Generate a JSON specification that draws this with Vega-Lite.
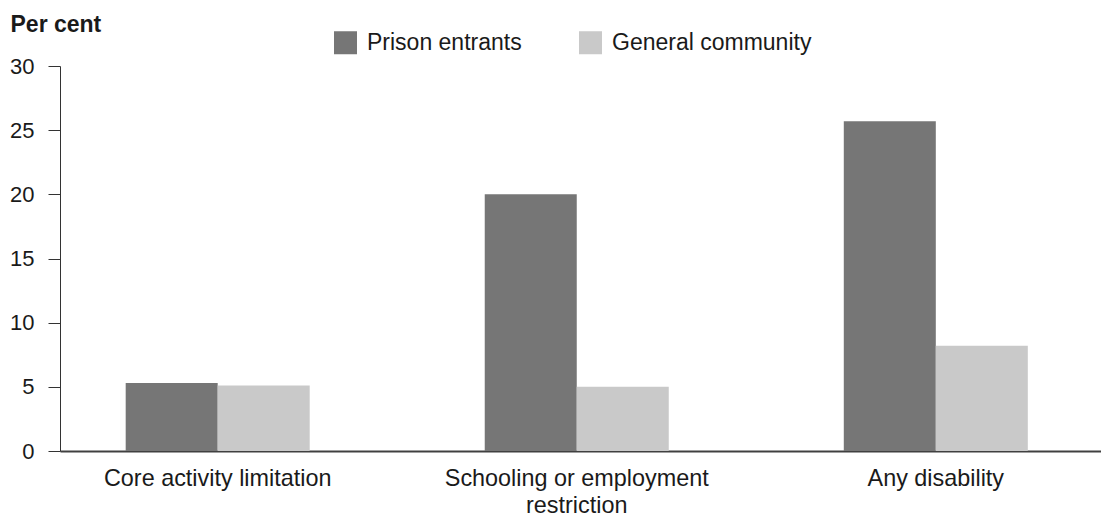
{
  "$schema": "https://vega.github.io/schema/vega-lite/v6.json",
  "autosize": "none",
  "padding": {"left": 60, "top": 66, "right": 0, "bottom": 67},
  "width": 1041,
  "height": 385,
  "background": "white",
  "config": {
    "font": "Liberation Sans",
    "view": {"stroke": null}
  },
  "data": {
    "values": [
      {"category": "Core activity limitation", "series": "Prison entrants", "value": 5.3},
      {"category": "Core activity limitation", "series": "General community", "value": 5.1},
      {"category": "Schooling or employment restriction", "series": "Prison entrants", "value": 20.0},
      {"category": "Schooling or employment restriction", "series": "General community", "value": 5.0},
      {"category": "Any disability", "series": "Prison entrants", "value": 25.7},
      {"category": "Any disability", "series": "General community", "value": 8.2}
    ]
  },
  "mark": {"type": "bar"},
  "encoding": {
    "x": {
      "field": "category",
      "type": "nominal",
      "sort": null,
      "scale": {"paddingInner": 0.4875, "paddingOuter": 0.1934, "align": 0.473},
      "axis": {
        "title": null,
        "labelAngle": 0,
        "ticks": false,
        "labelPadding": 16,
        "labelFontSize": 23.4,
        "labelColor": "#1a1a1a",
        "labelLineHeight": 27,
        "labelBaseline": "top",
        "labelLimit": 400,
        "domainColor": "#404040",
        "domainWidth": 2,
        "labelExpr": "datum.label == 'Schooling or employment restriction' ? ['Schooling or employment', 'restriction'] : datum.label"
      }
    },
    "xOffset": {
      "field": "series",
      "type": "nominal",
      "sort": ["Prison entrants", "General community"],
      "scale": {"paddingInner": 0, "paddingOuter": 0}
    },
    "y": {
      "field": "value",
      "type": "quantitative",
      "scale": {"domain": [0, 30], "nice": false},
      "axis": {
        "values": [0, 5, 10, 15, 20, 25, 30],
        "grid": false,
        "tickSize": 12,
        "tickColor": "#333333",
        "domainColor": "#333333",
        "labelPadding": 14,
        "labelFontSize": 22,
        "labelColor": "#1a1a1a",
        "title": "Per cent",
        "titleAngle": 0,
        "titleAlign": "left",
        "titleBaseline": "alphabetic",
        "titleX": -50,
        "titleY": -35,
        "titleFontSize": 23,
        "titleFontWeight": "bold",
        "titleColor": "#1a1a1a"
      }
    },
    "color": {
      "field": "series",
      "type": "nominal",
      "sort": ["Prison entrants", "General community"],
      "scale": {"domain": ["Prison entrants", "General community"], "range": ["#767676", "#c9c9c9"]},
      "legend": {
        "title": null,
        "orient": "none",
        "direction": "horizontal",
        "legendX": 274,
        "legendY": -35,
        "padding": 0,
        "symbolType": "square",
        "symbolSize": 529,
        "symbolStrokeWidth": 0,
        "labelFontSize": 23,
        "labelColor": "#1a1a1a",
        "labelOffset": 10,
        "labelLimit": 400,
        "columnPadding": 57
      }
    }
  }
}
